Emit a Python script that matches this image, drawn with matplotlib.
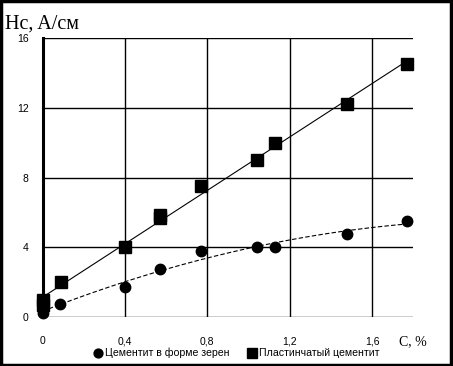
import numpy as np
import matplotlib.pyplot as plt
from matplotlib.patches import Rectangle

# Коэрцитивная сила в зависимости от содержания углерода
c_grain = [0.0, 0.0, 0.085, 0.4, 0.57, 0.77, 1.04, 1.13, 1.48, 1.77]
hc_grain = [0.2, 0.45, 0.75, 1.7, 2.75, 3.8, 4.0, 4.0, 4.75, 5.5]

c_plate = [0.0, 0.0, 0.09, 0.4, 0.57, 0.57, 0.77, 1.04, 1.13, 1.48, 1.77]
hc_plate = [0.7, 0.95, 2.0, 4.0, 5.65, 5.85, 7.5, 9.0, 10.0, 12.2, 14.5]

xticks = [0, 0.4, 0.8, 1.2, 1.6]
xlabels = ["0", "0,4", "0,8", "1,2", "1,6"]
yticks = [0, 4, 8, 12, 16]

narrow = ["Liberation Sans Narrow", "Liberation Sans", "DejaVu Sans"]
serif = ["Liberation Serif", "DejaVu Serif"]

fig = plt.figure(figsize=(4.53, 3.66), dpi=100)
ax = fig.add_axes([0.094, 0.134, 0.818, 0.762])

# линии тренда
xs = np.linspace(0, 1.77, 100)
p1 = np.polyfit(c_plate, hc_plate, 1)
p2 = np.polyfit(c_grain, hc_grain, 2)
ax.plot(xs, np.polyval(p1, xs), color="black", lw=0.8, zorder=3)
ax.plot(xs, np.polyval(p2, xs), color="black", lw=0.8, ls=(0, (4, 2)), zorder=3)

ax.plot(c_grain, hc_grain, "o", color="black", ms=7.5, clip_on=False, zorder=4,
        label="Цементит в форме зерен")
ax.plot(c_plate, hc_plate, "s", color="black", ms=8, clip_on=False, zorder=4,
        label="Пластинчатый цементит")

ax.set_xlim(0, 1.8)
ax.set_ylim(0, 16)
ax.set_xticks(xticks)
ax.set_xticklabels(xlabels, family=narrow, fontsize=7.5)
ax.set_yticks(yticks)
ax.set_yticklabels([str(v) for v in yticks], family=narrow, fontsize=7.5)
ax.tick_params(length=0)
ax.tick_params(axis="x", pad=14)
ax.tick_params(axis="y", pad=10)

for s in ["top", "right", "bottom"]:
    ax.spines[s].set_visible(False)
ax.spines["left"].set_linewidth(2.2)
ax.grid(True, color="black", lw=1.0)
ax.set_axisbelow(True)

fig.text(0.01, 0.921, "Hc, A/см", family=serif, fontsize=14.5, va="baseline")
fig.text(0.88, 0.057, "C, %", family=serif, fontsize=10, va="baseline")

ax.legend(loc="center", bbox_to_anchor=(0.524, 0.035), bbox_transform=fig.transFigure,
          ncol=2, frameon=False, handlelength=0.6, handletextpad=0.4, columnspacing=1.8,
          markerscale=0.85, borderpad=0, prop={"family": narrow, "size": 7.6})

fig.patches.append(Rectangle((0.003, 0.004), 0.992, 0.992, transform=fig.transFigure,
                             fill=False, edgecolor="black", lw=2.5))

fig.savefig("out.png", dpi=100)
